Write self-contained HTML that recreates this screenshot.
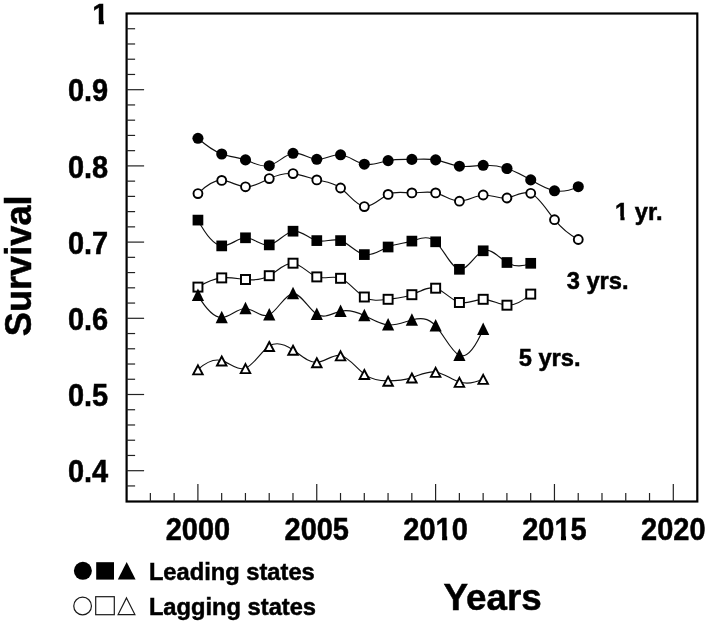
<!DOCTYPE html>
<html><head><meta charset="utf-8"><title>Survival</title>
<style>
html,body{margin:0;padding:0;background:#fff;}
svg{display:block;}
text{font-family:"Liberation Sans",sans-serif;font-weight:bold;fill:#000;stroke:#000;stroke-width:0.5px;}
.tk{font-size:29px;}
.lb{font-size:23.7px;}
.big{font-size:36.8px;}
</style></head><body>
<svg width="709" height="624" viewBox="0 0 709 624">
<rect width="709" height="624" fill="#fff"/>
<rect x="126.60" y="13.50" width="570.70" height="488.00" fill="none" stroke="#000" stroke-width="2.2"/>
<line x1="126.60" y1="28.74" x2="135.10" y2="28.74" stroke="#222" stroke-width="1.2"/>
<line x1="126.60" y1="43.98" x2="135.10" y2="43.98" stroke="#222" stroke-width="1.2"/>
<line x1="126.60" y1="59.22" x2="135.10" y2="59.22" stroke="#222" stroke-width="1.2"/>
<line x1="126.60" y1="74.46" x2="135.10" y2="74.46" stroke="#222" stroke-width="1.2"/>
<line x1="126.60" y1="89.70" x2="144.10" y2="89.70" stroke="#222" stroke-width="1.2"/>
<line x1="126.60" y1="104.94" x2="135.10" y2="104.94" stroke="#222" stroke-width="1.2"/>
<line x1="126.60" y1="120.18" x2="135.10" y2="120.18" stroke="#222" stroke-width="1.2"/>
<line x1="126.60" y1="135.42" x2="135.10" y2="135.42" stroke="#222" stroke-width="1.2"/>
<line x1="126.60" y1="150.66" x2="135.10" y2="150.66" stroke="#222" stroke-width="1.2"/>
<line x1="126.60" y1="165.90" x2="144.10" y2="165.90" stroke="#222" stroke-width="1.2"/>
<line x1="126.60" y1="181.14" x2="135.10" y2="181.14" stroke="#222" stroke-width="1.2"/>
<line x1="126.60" y1="196.38" x2="135.10" y2="196.38" stroke="#222" stroke-width="1.2"/>
<line x1="126.60" y1="211.62" x2="135.10" y2="211.62" stroke="#222" stroke-width="1.2"/>
<line x1="126.60" y1="226.86" x2="135.10" y2="226.86" stroke="#222" stroke-width="1.2"/>
<line x1="126.60" y1="242.10" x2="144.10" y2="242.10" stroke="#222" stroke-width="1.2"/>
<line x1="126.60" y1="257.34" x2="135.10" y2="257.34" stroke="#222" stroke-width="1.2"/>
<line x1="126.60" y1="272.58" x2="135.10" y2="272.58" stroke="#222" stroke-width="1.2"/>
<line x1="126.60" y1="287.82" x2="135.10" y2="287.82" stroke="#222" stroke-width="1.2"/>
<line x1="126.60" y1="303.06" x2="135.10" y2="303.06" stroke="#222" stroke-width="1.2"/>
<line x1="126.60" y1="318.30" x2="144.10" y2="318.30" stroke="#222" stroke-width="1.2"/>
<line x1="126.60" y1="333.54" x2="135.10" y2="333.54" stroke="#222" stroke-width="1.2"/>
<line x1="126.60" y1="348.78" x2="135.10" y2="348.78" stroke="#222" stroke-width="1.2"/>
<line x1="126.60" y1="364.02" x2="135.10" y2="364.02" stroke="#222" stroke-width="1.2"/>
<line x1="126.60" y1="379.26" x2="135.10" y2="379.26" stroke="#222" stroke-width="1.2"/>
<line x1="126.60" y1="394.50" x2="144.10" y2="394.50" stroke="#222" stroke-width="1.2"/>
<line x1="126.60" y1="409.74" x2="135.10" y2="409.74" stroke="#222" stroke-width="1.2"/>
<line x1="126.60" y1="424.98" x2="135.10" y2="424.98" stroke="#222" stroke-width="1.2"/>
<line x1="126.60" y1="440.22" x2="135.10" y2="440.22" stroke="#222" stroke-width="1.2"/>
<line x1="126.60" y1="455.46" x2="135.10" y2="455.46" stroke="#222" stroke-width="1.2"/>
<line x1="126.60" y1="470.70" x2="144.10" y2="470.70" stroke="#222" stroke-width="1.2"/>
<line x1="126.60" y1="485.94" x2="135.10" y2="485.94" stroke="#222" stroke-width="1.2"/>
<line x1="150.36" y1="501.50" x2="150.36" y2="493.00" stroke="#222" stroke-width="1.2"/>
<line x1="174.13" y1="501.50" x2="174.13" y2="493.00" stroke="#222" stroke-width="1.2"/>
<line x1="197.90" y1="501.50" x2="197.90" y2="484.00" stroke="#222" stroke-width="1.2"/>
<line x1="221.67" y1="501.50" x2="221.67" y2="493.00" stroke="#222" stroke-width="1.2"/>
<line x1="245.44" y1="501.50" x2="245.44" y2="493.00" stroke="#222" stroke-width="1.2"/>
<line x1="269.21" y1="501.50" x2="269.21" y2="493.00" stroke="#222" stroke-width="1.2"/>
<line x1="292.98" y1="501.50" x2="292.98" y2="493.00" stroke="#222" stroke-width="1.2"/>
<line x1="316.75" y1="501.50" x2="316.75" y2="484.00" stroke="#222" stroke-width="1.2"/>
<line x1="340.52" y1="501.50" x2="340.52" y2="493.00" stroke="#222" stroke-width="1.2"/>
<line x1="364.29" y1="501.50" x2="364.29" y2="493.00" stroke="#222" stroke-width="1.2"/>
<line x1="388.06" y1="501.50" x2="388.06" y2="493.00" stroke="#222" stroke-width="1.2"/>
<line x1="411.83" y1="501.50" x2="411.83" y2="493.00" stroke="#222" stroke-width="1.2"/>
<line x1="435.60" y1="501.50" x2="435.60" y2="484.00" stroke="#222" stroke-width="1.2"/>
<line x1="459.37" y1="501.50" x2="459.37" y2="493.00" stroke="#222" stroke-width="1.2"/>
<line x1="483.14" y1="501.50" x2="483.14" y2="493.00" stroke="#222" stroke-width="1.2"/>
<line x1="506.91" y1="501.50" x2="506.91" y2="493.00" stroke="#222" stroke-width="1.2"/>
<line x1="530.68" y1="501.50" x2="530.68" y2="493.00" stroke="#222" stroke-width="1.2"/>
<line x1="554.45" y1="501.50" x2="554.45" y2="484.00" stroke="#222" stroke-width="1.2"/>
<line x1="578.22" y1="501.50" x2="578.22" y2="493.00" stroke="#222" stroke-width="1.2"/>
<line x1="601.99" y1="501.50" x2="601.99" y2="493.00" stroke="#222" stroke-width="1.2"/>
<line x1="625.76" y1="501.50" x2="625.76" y2="493.00" stroke="#222" stroke-width="1.2"/>
<line x1="649.53" y1="501.50" x2="649.53" y2="493.00" stroke="#222" stroke-width="1.2"/>
<line x1="673.30" y1="501.50" x2="673.30" y2="484.00" stroke="#222" stroke-width="1.2"/>
<path d="M197.95 138.30 C205.87 145.35 213.80 151.03 221.72 154.00 C229.64 156.97 237.57 157.21 245.49 159.90 C253.41 162.59 261.34 167.72 269.26 165.70 C277.18 163.68 285.11 154.52 293.03 153.30 C300.95 152.08 308.88 158.79 316.80 159.30 C324.72 159.81 332.65 154.12 340.57 154.80 C348.49 155.48 356.42 162.52 364.34 164.20 C372.26 165.88 380.19 162.18 388.11 160.60 C396.03 159.02 403.96 159.55 411.88 159.40 C419.80 159.25 427.73 158.43 435.65 159.90 C443.57 161.37 451.50 165.13 459.42 166.20 C467.34 167.27 475.27 165.64 483.19 165.30 C491.11 164.96 499.04 165.90 506.96 168.50 C514.88 171.10 522.81 175.34 530.73 179.90 C538.65 184.46 546.58 189.33 554.50 190.80 C562.42 192.27 570.35 190.34 578.27 186.70" fill="none" stroke="#111" stroke-width="1.15"/>
<circle cx="197.95" cy="138.30" r="5.55" fill="#000"/>
<circle cx="221.72" cy="154.00" r="5.55" fill="#000"/>
<circle cx="245.49" cy="159.90" r="5.55" fill="#000"/>
<circle cx="269.26" cy="165.70" r="5.55" fill="#000"/>
<circle cx="293.03" cy="153.30" r="5.55" fill="#000"/>
<circle cx="316.80" cy="159.30" r="5.55" fill="#000"/>
<circle cx="340.57" cy="154.80" r="5.55" fill="#000"/>
<circle cx="364.34" cy="164.20" r="5.55" fill="#000"/>
<circle cx="388.11" cy="160.60" r="5.55" fill="#000"/>
<circle cx="411.88" cy="159.40" r="5.55" fill="#000"/>
<circle cx="435.65" cy="159.90" r="5.55" fill="#000"/>
<circle cx="459.42" cy="166.20" r="5.55" fill="#000"/>
<circle cx="483.19" cy="165.30" r="5.55" fill="#000"/>
<circle cx="506.96" cy="168.50" r="5.55" fill="#000"/>
<circle cx="530.73" cy="179.90" r="5.55" fill="#000"/>
<circle cx="554.50" cy="190.80" r="5.55" fill="#000"/>
<circle cx="578.27" cy="186.70" r="5.55" fill="#000"/>
<path d="M197.95 193.60 C205.87 185.50 213.80 180.17 221.72 180.40 C229.64 180.63 237.57 186.41 245.49 186.80 C253.41 187.19 261.34 182.18 269.26 178.60 C277.18 175.02 285.11 172.86 293.03 173.60 C300.95 174.34 308.88 177.97 316.80 179.90 C324.72 181.83 332.65 182.07 340.57 188.00 C348.49 193.93 356.42 205.56 364.34 206.60 C372.26 207.64 380.19 198.10 388.11 194.40 C396.03 190.70 403.96 192.86 411.88 192.90 C419.80 192.94 427.73 190.88 435.65 192.90 C443.57 194.92 451.50 201.04 459.42 201.20 C467.34 201.36 475.27 195.56 483.19 195.00 C491.11 194.44 499.04 199.10 506.96 198.00 C514.88 196.90 522.81 190.02 530.73 193.30 C538.65 196.58 546.58 210.00 554.50 219.70 C562.42 229.40 570.35 235.38 578.27 239.50" fill="none" stroke="#111" stroke-width="1.15"/>
<circle cx="197.95" cy="193.60" r="4.45" fill="#fff" stroke="#000" stroke-width="1.9"/>
<circle cx="221.72" cy="180.40" r="4.45" fill="#fff" stroke="#000" stroke-width="1.9"/>
<circle cx="245.49" cy="186.80" r="4.45" fill="#fff" stroke="#000" stroke-width="1.9"/>
<circle cx="269.26" cy="178.60" r="4.45" fill="#fff" stroke="#000" stroke-width="1.9"/>
<circle cx="293.03" cy="173.60" r="4.45" fill="#fff" stroke="#000" stroke-width="1.9"/>
<circle cx="316.80" cy="179.90" r="4.45" fill="#fff" stroke="#000" stroke-width="1.9"/>
<circle cx="340.57" cy="188.00" r="4.45" fill="#fff" stroke="#000" stroke-width="1.9"/>
<circle cx="364.34" cy="206.60" r="4.45" fill="#fff" stroke="#000" stroke-width="1.9"/>
<circle cx="388.11" cy="194.40" r="4.45" fill="#fff" stroke="#000" stroke-width="1.9"/>
<circle cx="411.88" cy="192.90" r="4.45" fill="#fff" stroke="#000" stroke-width="1.9"/>
<circle cx="435.65" cy="192.90" r="4.45" fill="#fff" stroke="#000" stroke-width="1.9"/>
<circle cx="459.42" cy="201.20" r="4.45" fill="#fff" stroke="#000" stroke-width="1.9"/>
<circle cx="483.19" cy="195.00" r="4.45" fill="#fff" stroke="#000" stroke-width="1.9"/>
<circle cx="506.96" cy="198.00" r="4.45" fill="#fff" stroke="#000" stroke-width="1.9"/>
<circle cx="530.73" cy="193.30" r="4.45" fill="#fff" stroke="#000" stroke-width="1.9"/>
<circle cx="554.50" cy="219.70" r="4.45" fill="#fff" stroke="#000" stroke-width="1.9"/>
<circle cx="578.27" cy="239.50" r="4.45" fill="#fff" stroke="#000" stroke-width="1.9"/>
<path d="M197.95 220.10 C205.87 235.00 213.80 245.17 221.72 245.90 C229.64 246.63 237.57 237.90 245.49 237.80 C253.41 237.70 261.34 246.21 269.26 244.90 C277.18 243.59 285.11 232.45 293.03 231.20 C300.95 229.95 308.88 238.57 316.80 240.60 C324.72 242.63 332.65 238.05 340.57 240.60 C348.49 243.15 356.42 252.83 364.34 254.60 C372.26 256.37 380.19 250.24 388.11 247.00 C396.03 243.76 403.96 243.42 411.88 241.10 C419.80 238.78 427.73 234.47 435.65 241.80 C443.57 249.13 451.50 268.08 459.42 269.30 C467.34 270.52 475.27 253.99 483.19 250.80 C491.11 247.61 499.04 257.75 506.96 262.50 C514.88 267.25 522.81 266.62 530.73 263.30" fill="none" stroke="#111" stroke-width="1.15"/>
<rect x="192.60" y="214.75" width="10.7" height="10.7" fill="#000"/>
<rect x="216.37" y="240.55" width="10.7" height="10.7" fill="#000"/>
<rect x="240.14" y="232.45" width="10.7" height="10.7" fill="#000"/>
<rect x="263.91" y="239.55" width="10.7" height="10.7" fill="#000"/>
<rect x="287.68" y="225.85" width="10.7" height="10.7" fill="#000"/>
<rect x="311.45" y="235.25" width="10.7" height="10.7" fill="#000"/>
<rect x="335.22" y="235.25" width="10.7" height="10.7" fill="#000"/>
<rect x="358.99" y="249.25" width="10.7" height="10.7" fill="#000"/>
<rect x="382.76" y="241.65" width="10.7" height="10.7" fill="#000"/>
<rect x="406.53" y="235.75" width="10.7" height="10.7" fill="#000"/>
<rect x="430.30" y="236.45" width="10.7" height="10.7" fill="#000"/>
<rect x="454.07" y="263.95" width="10.7" height="10.7" fill="#000"/>
<rect x="477.84" y="245.45" width="10.7" height="10.7" fill="#000"/>
<rect x="501.61" y="257.15" width="10.7" height="10.7" fill="#000"/>
<rect x="525.38" y="257.95" width="10.7" height="10.7" fill="#000"/>
<path d="M197.95 287.10 C205.87 282.30 213.80 278.80 221.72 277.90 C229.64 277.00 237.57 278.71 245.49 279.50 C253.41 280.29 261.34 280.15 269.26 275.70 C277.18 271.25 285.11 262.49 293.03 263.20 C300.95 263.91 308.88 274.09 316.80 276.90 C324.72 279.71 332.65 275.16 340.57 278.30 C348.49 281.44 356.42 292.29 364.34 297.00 C372.26 301.71 380.19 300.29 388.11 299.30 C396.03 298.31 403.96 297.77 411.88 294.70 C419.80 291.63 427.73 286.04 435.65 288.20 C443.57 290.36 451.50 300.27 459.42 302.50 C467.34 304.73 475.27 299.30 483.19 299.30 C491.11 299.30 499.04 304.74 506.96 305.20 C514.88 305.66 522.81 301.12 530.73 294.10" fill="none" stroke="#111" stroke-width="1.15"/>
<rect x="193.45" y="282.60" width="9" height="9" fill="#fff" stroke="#000" stroke-width="1.95"/>
<rect x="217.22" y="273.40" width="9" height="9" fill="#fff" stroke="#000" stroke-width="1.95"/>
<rect x="240.99" y="275.00" width="9" height="9" fill="#fff" stroke="#000" stroke-width="1.95"/>
<rect x="264.76" y="271.20" width="9" height="9" fill="#fff" stroke="#000" stroke-width="1.95"/>
<rect x="288.53" y="258.70" width="9" height="9" fill="#fff" stroke="#000" stroke-width="1.95"/>
<rect x="312.30" y="272.40" width="9" height="9" fill="#fff" stroke="#000" stroke-width="1.95"/>
<rect x="336.07" y="273.80" width="9" height="9" fill="#fff" stroke="#000" stroke-width="1.95"/>
<rect x="359.84" y="292.50" width="9" height="9" fill="#fff" stroke="#000" stroke-width="1.95"/>
<rect x="383.61" y="294.80" width="9" height="9" fill="#fff" stroke="#000" stroke-width="1.95"/>
<rect x="407.38" y="290.20" width="9" height="9" fill="#fff" stroke="#000" stroke-width="1.95"/>
<rect x="431.15" y="283.70" width="9" height="9" fill="#fff" stroke="#000" stroke-width="1.95"/>
<rect x="454.92" y="298.00" width="9" height="9" fill="#fff" stroke="#000" stroke-width="1.95"/>
<rect x="478.69" y="294.80" width="9" height="9" fill="#fff" stroke="#000" stroke-width="1.95"/>
<rect x="502.46" y="300.70" width="9" height="9" fill="#fff" stroke="#000" stroke-width="1.95"/>
<rect x="526.23" y="289.60" width="9" height="9" fill="#fff" stroke="#000" stroke-width="1.95"/>
<path d="M197.95 295.40 C205.87 308.76 213.80 317.63 221.72 317.50 C229.64 317.37 237.57 308.25 245.49 308.50 C253.41 308.75 261.34 318.38 269.26 314.70 C277.18 311.02 285.11 294.05 293.03 293.60 C300.95 293.15 308.88 309.23 316.80 314.20 C324.72 319.17 332.65 313.04 340.57 311.20 C348.49 309.36 356.42 311.79 364.34 315.50 C372.26 319.21 380.19 324.18 388.11 324.90 C396.03 325.62 403.96 322.09 411.88 320.00 C419.80 317.91 427.73 317.28 435.65 325.80 C443.57 334.32 451.50 352.01 459.42 355.30 C467.34 358.59 475.27 347.49 483.19 329.20" fill="none" stroke="#111" stroke-width="1.15"/>
<path d="M197.95 288.60 L204.05 301.10 L191.85 301.10 Z" fill="#000"/>
<path d="M221.72 310.70 L227.82 323.20 L215.62 323.20 Z" fill="#000"/>
<path d="M245.49 301.70 L251.59 314.20 L239.39 314.20 Z" fill="#000"/>
<path d="M269.26 307.90 L275.36 320.40 L263.16 320.40 Z" fill="#000"/>
<path d="M293.03 286.80 L299.13 299.30 L286.93 299.30 Z" fill="#000"/>
<path d="M316.80 307.40 L322.90 319.90 L310.70 319.90 Z" fill="#000"/>
<path d="M340.57 304.40 L346.67 316.90 L334.47 316.90 Z" fill="#000"/>
<path d="M364.34 308.70 L370.44 321.20 L358.24 321.20 Z" fill="#000"/>
<path d="M388.11 318.10 L394.21 330.60 L382.01 330.60 Z" fill="#000"/>
<path d="M411.88 313.20 L417.98 325.70 L405.78 325.70 Z" fill="#000"/>
<path d="M435.65 319.00 L441.75 331.50 L429.55 331.50 Z" fill="#000"/>
<path d="M459.42 348.50 L465.52 361.00 L453.32 361.00 Z" fill="#000"/>
<path d="M483.19 322.40 L489.29 334.90 L477.09 334.90 Z" fill="#000"/>
<path d="M197.95 369.50 C205.87 362.44 213.80 358.44 221.72 360.60 C229.64 362.76 237.57 371.06 245.49 368.20 C253.41 365.34 261.34 351.33 269.26 346.10 C277.18 340.87 285.11 344.43 293.03 349.90 C300.95 355.37 308.88 362.75 316.80 362.40 C324.72 362.05 332.65 353.98 340.57 355.50 C348.49 357.02 356.42 368.13 364.34 374.10 C372.26 380.07 380.19 380.89 388.11 380.90 C396.03 380.91 403.96 380.11 411.88 377.60 C419.80 375.09 427.73 370.87 435.65 372.00 C443.57 373.13 451.50 379.60 459.42 382.00 C467.34 384.40 475.27 382.72 483.19 379.00" fill="none" stroke="#111" stroke-width="1.15"/>
<path d="M197.95 365.40 L202.70 374.40 L193.20 374.40 Z" fill="#fff" stroke="#000" stroke-width="1.9" stroke-linejoin="miter"/>
<path d="M221.72 356.50 L226.47 365.50 L216.97 365.50 Z" fill="#fff" stroke="#000" stroke-width="1.9" stroke-linejoin="miter"/>
<path d="M245.49 364.10 L250.24 373.10 L240.74 373.10 Z" fill="#fff" stroke="#000" stroke-width="1.9" stroke-linejoin="miter"/>
<path d="M269.26 342.00 L274.01 351.00 L264.51 351.00 Z" fill="#fff" stroke="#000" stroke-width="1.9" stroke-linejoin="miter"/>
<path d="M293.03 345.80 L297.78 354.80 L288.28 354.80 Z" fill="#fff" stroke="#000" stroke-width="1.9" stroke-linejoin="miter"/>
<path d="M316.80 358.30 L321.55 367.30 L312.05 367.30 Z" fill="#fff" stroke="#000" stroke-width="1.9" stroke-linejoin="miter"/>
<path d="M340.57 351.40 L345.32 360.40 L335.82 360.40 Z" fill="#fff" stroke="#000" stroke-width="1.9" stroke-linejoin="miter"/>
<path d="M364.34 370.00 L369.09 379.00 L359.59 379.00 Z" fill="#fff" stroke="#000" stroke-width="1.9" stroke-linejoin="miter"/>
<path d="M388.11 376.80 L392.86 385.80 L383.36 385.80 Z" fill="#fff" stroke="#000" stroke-width="1.9" stroke-linejoin="miter"/>
<path d="M411.88 373.50 L416.63 382.50 L407.13 382.50 Z" fill="#fff" stroke="#000" stroke-width="1.9" stroke-linejoin="miter"/>
<path d="M435.65 367.90 L440.40 376.90 L430.90 376.90 Z" fill="#fff" stroke="#000" stroke-width="1.9" stroke-linejoin="miter"/>
<path d="M459.42 377.90 L464.17 386.90 L454.67 386.90 Z" fill="#fff" stroke="#000" stroke-width="1.9" stroke-linejoin="miter"/>
<path d="M483.19 374.90 L487.94 383.90 L478.44 383.90 Z" fill="#fff" stroke="#000" stroke-width="1.9" stroke-linejoin="miter"/>
<text x="108.4" y="24.4" text-anchor="end" class="tk">1</text>
<text transform="translate(108.2,101.30) scale(1,1.065)" text-anchor="end" class="tk">0.9</text>
<text transform="translate(108.2,177.50) scale(1,1.065)" text-anchor="end" class="tk">0.8</text>
<text transform="translate(108.2,253.70) scale(1,1.065)" text-anchor="end" class="tk">0.7</text>
<text transform="translate(108.2,329.90) scale(1,1.065)" text-anchor="end" class="tk">0.6</text>
<text transform="translate(108.2,406.10) scale(1,1.065)" text-anchor="end" class="tk">0.5</text>
<text transform="translate(108.2,482.30) scale(1,1.065)" text-anchor="end" class="tk">0.4</text>
<text transform="translate(197.90,540.2) scale(1,1.065)" text-anchor="middle" class="tk">2000</text>
<text transform="translate(316.75,540.2) scale(1,1.065)" text-anchor="middle" class="tk">2005</text>
<text transform="translate(435.60,540.2) scale(1,1.065)" text-anchor="middle" class="tk">2010</text>
<text transform="translate(554.45,540.2) scale(1,1.065)" text-anchor="middle" class="tk">2015</text>
<text transform="translate(673.30,540.2) scale(1,1.065)" text-anchor="middle" class="tk">2020</text>
<rect x="92.57" y="19.99" width="6.21" height="6.67" fill="#fff"/><rect x="103.88" y="19.99" width="4.99" height="6.67" fill="#fff"/>
<rect x="435.89" y="535.79" width="6.21" height="6.67" fill="#fff"/><rect x="447.20" y="535.79" width="4.99" height="6.67" fill="#fff"/>
<rect x="554.74" y="535.79" width="6.21" height="6.67" fill="#fff"/><rect x="566.05" y="535.79" width="4.99" height="6.67" fill="#fff"/>
<text class="lb" x="615.1" y="219.9">1 yr.</text>
<rect x="615.34" y="216.30" width="5.07" height="5.45" fill="#fff"/><rect x="624.58" y="216.30" width="4.08" height="5.45" fill="#fff"/>
<text class="lb" x="566.7" y="288.6">3 yrs.</text>
<text class="lb" x="518.7" y="365.5">5 yrs.</text>
<text class="big" style="font-size:36.2px" transform="translate(30.9,336.2) rotate(-90)">Survival</text>
<text class="big" x="443.6" y="609.6">Years</text>
<circle cx="82.9" cy="570.8" r="9" fill="#000"/>
<rect x="96.2" y="562.2" width="17.8" height="17.4" fill="#000"/>
<path d="M126.7 562 L135.6 579.6 L117.8 579.6 Z" fill="#000"/>
<circle cx="82.6" cy="606.0" r="8.85" fill="#fff" stroke="#1a1a1a" stroke-width="1.2"/>
<rect x="95.7" y="596.7" width="18.6" height="18" fill="#fff" stroke="#1a1a1a" stroke-width="1.2"/>
<path d="M126.5 597.9 L134.9 614.6 L118.1 614.6 Z" fill="#fff" stroke="#1a1a1a" stroke-width="1.2"/>
<text class="lb" x="148.9" y="579.6">Leading states</text>
<text class="lb" x="148.9" y="614.8">Lagging states</text>
</svg>
</body></html>
